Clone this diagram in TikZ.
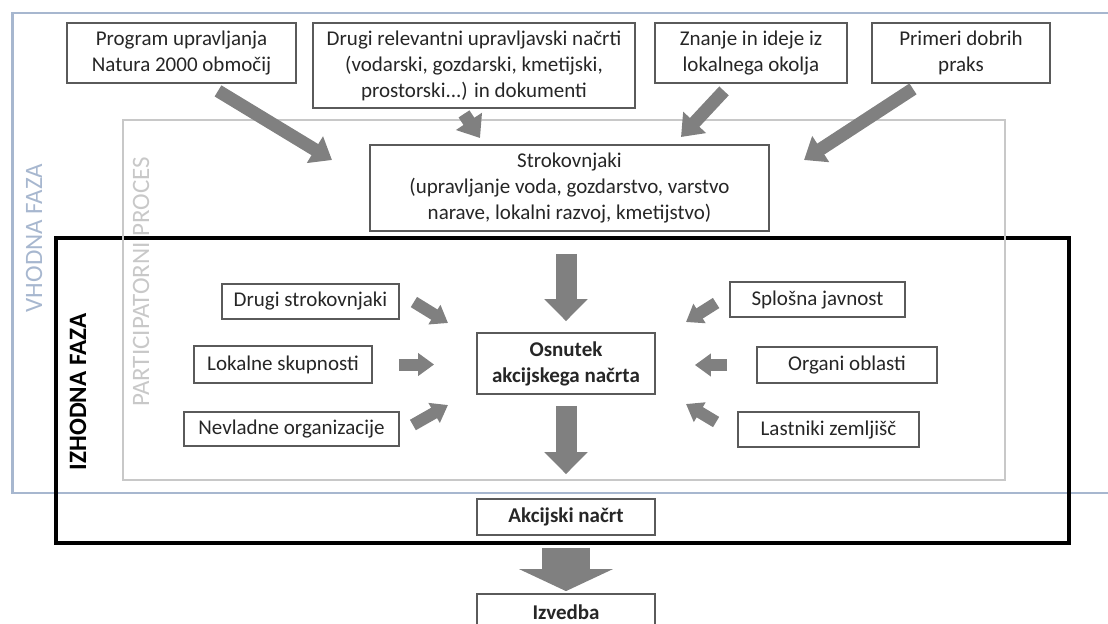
\documentclass[tikz,border=0pt]{standalone}
\usepackage{fontspec}
\setmainfont{Carlito}
\usetikzlibrary{arrows.meta}
\definecolor{vhodblue}{HTML}{A7B7CF}
\definecolor{partgray}{HTML}{C8C8C8}
\definecolor{boxline}{HTML}{5A5A5A}
\definecolor{arrowgray}{HTML}{808080}
\definecolor{txt}{HTML}{262626}

\begin{document}
\begin{tikzpicture}[x=0.5pt,y=-0.5pt,
  box/.style={draw=boxline,line width=0.9pt,fill=white,align=center,inner sep=0pt,
    text=txt,font=\fontsize{10.5}{13}\selectfont},
  boldbox/.style={box,font=\fontsize{10.5}{13}\selectfont\bfseries},
  phase/.style={rotate=90,font=\fontsize{12.5}{15}\selectfont},
  inarrow/.style={arrowgray,line width=6.5pt,-{Triangle[width=15pt,length=10pt]}},
  sidearrow/.style={arrowgray,line width=6pt,-{Triangle[width=11pt,length=8pt]}},
  mainarrow/.style={arrowgray,line width=10.5pt,-{Triangle[width=21pt,length=11pt]}},
  bigarrow/.style={arrowgray,line width=24pt,-{Triangle[width=46.5pt,length=11pt]}}]
   \useasboundingbox (0,0) rectangle (1108,623);
   % frames
   \draw[vhodblue,line width=1.2pt] (1108,13) -- (12.5,13) -- (12.5,493) -- (1108,493);
   \draw[black,line width=1.8pt] (56,238) rectangle (1069,543);
   \draw[partgray,line width=1.1pt] (123,120) rectangle (1005,480);
   \node[phase,text=vhodblue] (vhodna) at (34,238) {VHODNA FAZA};
   \node[phase,text=partgray] (particip) at (141,282) {PARTICIPATORNI PROCES};
   \node[phase,text=black,font=\fontsize{12.5}{15}\selectfont\bfseries] (izhodna) at (78,392) {IZHODNA FAZA};
   % inputs
   \node[box,minimum width=114.5pt,minimum height=30pt] (prog) at (181.5,53)
     {Program upravljanja\\Natura 2000 območij};
   \node[box,minimum width=161pt,minimum height=42.5pt] (drugiplan) at (474,65.5)
     {Drugi relevantni upravljavski načrti\\(vodarski, gozdarski, kmetijski,\\prostorski...) in dokumenti};
   \node[box,minimum width=96pt,minimum height=30pt] (znanje) at (751,53)
     {Znanje in ideje iz\\lokalnega okolja};
   \node[box,minimum width=89pt,minimum height=30pt] (primeri) at (961,53)
     {Primeri dobrih\\praks};
   \node[box,minimum width=199.5pt,minimum height=43pt] (strok) at (569.5,188)
     {Strokovnjaki\\(upravljanje voda, gozdarstvo, varstvo\\narave, lokalni razvoj, kmetijstvo)};
   % centre column
   \node[boldbox,minimum width=89pt,minimum height=30.5pt] (osnutek) at (566,363.5)
     {Osnutek\\akcijskega načrta};
   \node[boldbox,minimum width=89pt,minimum height=18pt] (akcijski) at (566,517) {Akcijski načrt};
   \node[boldbox,minimum width=89pt,minimum height=18pt] (izvedba) at (566,612) {Izvedba};
   % participants
   \node[box,minimum width=88.5pt,minimum height=17.5pt] (drugistr) at (310.5,301.5) {Drugi strokovnjaki};
   \node[box,minimum width=89pt,minimum height=18.5pt] (lokalne) at (283,364.5) {Lokalne skupnosti};
   \node[box,minimum width=107.5pt,minimum height=17pt] (nevladne) at (291.5,429) {Nevladne organizacije};
   \node[box,minimum width=87.5pt,minimum height=17.5pt] (splosna) at (817.5,299.5) {Splošna javnost};
   \node[box,minimum width=90pt,minimum height=18pt] (organi) at (847,365) {Organi oblasti};
   \node[box,minimum width=90.5pt,minimum height=17.5pt] (lastniki) at (828.5,429.5) {Lastniki zemljišč};
   % arrow tips
   \coordinate (tProg) at (332,160);
   \coordinate (tPlan) at (480,138);
   \coordinate (tZnanje) at (681,137);
   \coordinate (tPrimeri) at (804,160);
   \coordinate (tDrugi) at (448,323);
   \coordinate (tNevl) at (448,405);
   \coordinate (tSplos) at (686,322);
   \coordinate (tLast) at (686,404);
   % arrows
   \draw[inarrow] ([shift={(36.5,7)}]prog.south) -- (tProg);
   \draw[inarrow] ([shift={(-10,5)}]drugiplan.south) -- (tPlan);
   \draw[inarrow] ([shift={(-27,7)}]znanje.south) -- (tZnanje);
   \draw[inarrow] ([shift={(-48,5)}]primeri.south) -- (tPrimeri);
   \draw[mainarrow,shorten <=11pt,shorten >=5.5pt] (osnutek.north |- strok.south) -- (osnutek.north);
   \draw[mainarrow,shorten <=5.5pt,shorten >=12pt] (osnutek) -- (akcijski);
   \draw[bigarrow,shorten <=6pt,shorten >=1pt] (akcijski) -- (izvedba);
   \draw[sidearrow] ([shift={(14,0.5)}]drugistr.east) -- (tDrugi);
   \draw[sidearrow,shorten <=13pt,shorten >=21pt] (lokalne.east) -- (lokalne.east -| osnutek.west);
   \draw[sidearrow] ([shift={(13,-4)}]nevladne.east) -- (tNevl);
   \draw[sidearrow] ([shift={(-13,3.5)}]splosna.west) -- (tSplos);
   \draw[sidearrow,shorten <=14.5pt,shorten >=19.5pt] (organi.west) -- (organi.west -| osnutek.east);
   \draw[sidearrow] ([shift={(-21,-7.5)}]lastniki.west) -- (tLast);
  \end{tikzpicture}
\end{document}
